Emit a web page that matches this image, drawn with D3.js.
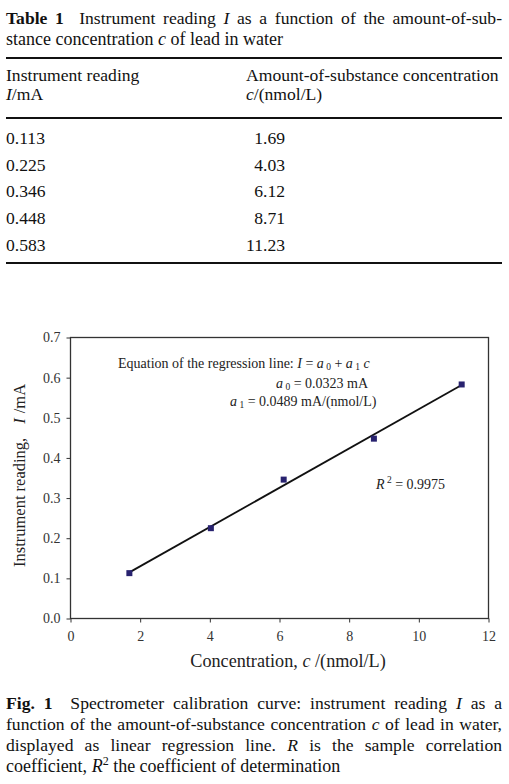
<!DOCTYPE html>
<html>
<head>
<meta charset="utf-8">
<script src="https://cdn.jsdelivr.net/npm/d3@7"></script>
<style>
  body { margin: 0; background: #fff; }
  #page { position: relative; width: 509px; height: 784px; font-family: "Liberation Serif", "Times New Roman", serif; color: #111; }
  .line { position: absolute; left: 6px; white-space: nowrap; font-size: 17.6px; line-height: 20px; }
  .just { width: 496px; text-align: justify; text-align-last: justify; white-space: normal; }
  .rule { position: absolute; left: 6px; width: 496px; background: #111; }
  .cell { position: absolute; font-size: 17.6px; line-height: 20px; white-space: nowrap; }
  svg { position: absolute; left: 0; top: 0; }
</style>
</head>
<body>
<div id="page"></div>
<script>
// table values
const reading = [0.113, 0.225, 0.346, 0.448, 0.583];
const conc = [1.69, 4.03, 6.12, 8.71, 11.23];
const readingLabels = ["0.113", "0.225", "0.346", "0.448", "0.583"];
const concLabels = ["1.69", "4.03", "6.12", "8.71", "11.23"];
// regression
const a0 = 0.0323, a1 = 0.0489, r2 = 0.9975;
const xTicks = [0, 2, 4, 6, 8, 10, 12];
const yTicks = [0, 0.1, 0.2, 0.3, 0.4, 0.5, 0.6, 0.7];

const page = d3.select("#page");

// table caption, justified lines
const capTop = [
  {html: "<b>Table 1</b>&nbsp; Instrument reading <i>I</i> as a function of the amount-of-sub-", just: true},
  {html: "stance concentration <i>c</i> of lead in water", just: false}
];
capTop.forEach((l, i) => {
  page.append("div").attr("class", "line" + (l.just ? " just" : ""))
    .style("top", (7.5 + i * 21.5) + "px").style("font-size", i == 1 ? "18px" : null).html(l.html);
});

page.append("div").attr("class", "rule").style("top", "57px").style("height", "2.2px");
page.append("div").attr("class", "rule").style("top", "117px").style("height", "2.2px");
page.append("div").attr("class", "rule").style("top", "262px").style("height", "2px");

page.append("div").attr("class", "cell").style("left", "6px").style("top", "64.5px").html("Instrument reading");
page.append("div").attr("class", "cell").style("left", "6px").style("top", "84px").html("<i>I</i>/mA");
page.append("div").attr("class", "cell").style("left", "246px").style("top", "64.5px").html("Amount-of-substance concentration");
page.append("div").attr("class", "cell").style("left", "246px").style("top", "84px").html("<i>c</i>/(nmol/L)");

reading.forEach((v, i) => {
  const top = 128 + i * 26.7;
  page.append("div").attr("class", "cell").style("left", "6px").style("top", top + "px").text(readingLabels[i]);
  page.append("div").attr("class", "cell").style("right", (509 - 285) + "px").style("top", top + "px").text(concLabels[i]);
});

// figure caption
const capBottom = [
  {html: "<b>Fig. 1</b>&nbsp; Spectrometer calibration curve: instrument reading <i>I</i> as a", just: true},
  {html: "function of the amount-of-substance concentration <i>c</i> of lead in water,", just: true},
  {html: "displayed as linear regression line. <i>R</i> is the sample correlation", just: true},
  {html: "coefficient, <i>R</i><sup style='font-size:12px;line-height:0'>2</sup> the coefficient of determination", just: false}
];
capBottom.forEach((l, i) => {
  page.append("div").attr("class", "line" + (l.just ? " just" : ""))
    .style("top", (692.5 + i * 21) + "px").style("font-size", i == 3 ? "18px" : null).html(l.html);
});

// chart
const svg = page.append("svg").attr("width", 509).attr("height", 784)
  .style("font-family", "'Liberation Serif', 'Times New Roman', serif");

const x = d3.scaleLinear().domain([0, 12]).range([70.5, 488.5]);
const y = d3.scaleLinear().domain([0, 0.7]).range([618.5, 337.5]);

svg.append("rect")
  .attr("x", x(0)).attr("y", y(0.7))
  .attr("width", x(12) - x(0)).attr("height", y(0) - y(0.7))
  .attr("fill", "none").attr("stroke", "#333").attr("stroke-width", 1.3);

const yAxis = svg.append("g").attr("transform", `translate(${x(0)},0)`)
  .call(d3.axisLeft(y).tickValues(yTicks).tickSize(4).tickPadding(6).tickFormat(d3.format(".1f")));
const xAxis = svg.append("g").attr("transform", `translate(0,${y(0)})`)
  .call(d3.axisBottom(x).tickValues(xTicks).tickSize(4).tickPadding(9));
[xAxis, yAxis].forEach(g => {
  g.select(".domain").remove();
  g.selectAll("line").attr("stroke", "#333");
  g.selectAll("text").attr("fill", "#333").style("font-size", "14px")
    .style("font-family", "'Liberation Serif', 'Times New Roman', serif");
});

// regression line
const cMin = d3.min(conc), cMax = d3.max(conc);
svg.append("line")
  .attr("x1", x(cMin)).attr("y1", y(a0 + a1 * cMin))
  .attr("x2", x(cMax)).attr("y2", y(a0 + a1 * cMax))
  .attr("stroke", "#111").attr("stroke-width", 1.8);

svg.selectAll("rect.pt").data(conc).enter().append("rect")
  .attr("class", "pt")
  .attr("x", (d) => x(d) - 3).attr("y", (d, i) => y(reading[i]) - 3)
  .attr("width", 6).attr("height", 6)
  .attr("fill", "#28226f");

// axis titles
svg.append("text").attr("x", 288).attr("y", 667).attr("text-anchor", "middle")
  .style("font-size", "18.2px").attr("fill", "#222")
  .html("Concentration, <tspan font-style='italic'>c</tspan> /(nmol/L)");

svg.append("text").attr("transform", "translate(25,567) rotate(-90)").attr("text-anchor", "start")
  .style("font-size", "16.5px").attr("fill", "#222")
  .html("Instrument reading,<tspan dx='14' font-style='italic'>I</tspan><tspan dx='5'>/mA</tspan>");

// annotations
const ann = svg.append("g").style("font-size", "14px").attr("fill", "#222");
ann.append("text").attr("x", 118).attr("y", 368)
  .html("Equation of the regression line: <tspan font-style='italic'>I</tspan> = <tspan font-style='italic'>a</tspan><tspan font-size='9.5' dy='2'> 0</tspan><tspan dy='-2'> + </tspan><tspan font-style='italic'>a</tspan><tspan font-size='9.5' dy='2'> 1</tspan><tspan dy='-2' font-style='italic'> c</tspan>");
ann.append("text").attr("x", 276).attr("y", 388)
  .html("<tspan font-style='italic'>a</tspan><tspan font-size='9.5' dy='2'> 0</tspan><tspan dy='-2'> = " + a0 + " mA</tspan>");
ann.append("text").attr("x", 230).attr("y", 406)
  .html("<tspan font-style='italic'>a</tspan><tspan font-size='9.5' dy='2'> 1</tspan><tspan dy='-2'> = " + a1 + " mA/(nmol/L)</tspan>");
ann.append("text").attr("x", 376).attr("y", 489)
  .html("<tspan font-style='italic'>R</tspan><tspan font-size='9.5' dy='-6'> 2</tspan><tspan dy='6'> = " + r2 + "</tspan>");
</script>
</body>
</html>
